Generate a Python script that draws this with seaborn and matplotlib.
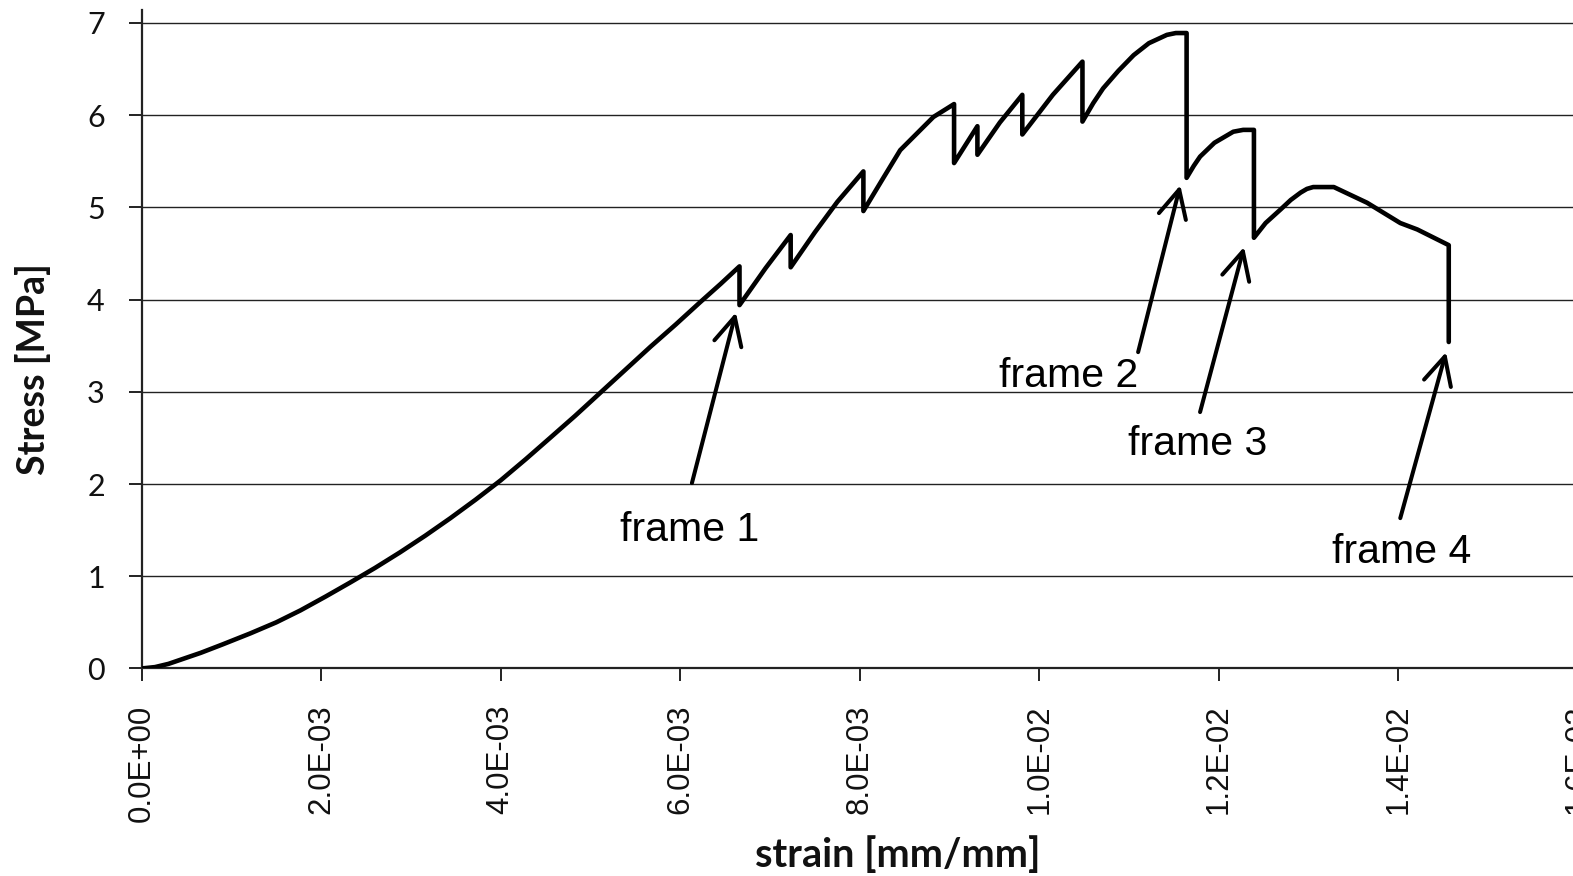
import matplotlib
matplotlib.use("Agg")
import matplotlib.pyplot as plt
import seaborn as sns
import pandas as pd

# Stress-strain record of the tensile test (strain in mm/mm, stress in MPa)
strain = [0.0, 0.15e-3, 0.30e-3, 0.45e-3, 0.66e-3, 0.90e-3, 1.21e-3, 1.50e-3,
          1.77e-3, 2.05e-3, 2.32e-3, 2.60e-3, 2.88e-3, 3.16e-3, 3.44e-3,
          3.72e-3, 4.00e-3, 4.28e-3, 4.55e-3, 4.83e-3, 5.11e-3, 5.39e-3,
          5.67e-3, 5.95e-3, 6.22e-3, 6.45e-3, 6.66e-3, 6.66e-3, 6.95e-3,
          7.23e-3, 7.23e-3, 7.50e-3, 7.75e-3, 8.04e-3, 8.04e-3, 8.25e-3,
          8.45e-3, 8.82e-3, 9.05e-3, 9.05e-3, 9.31e-3, 9.31e-3, 9.56e-3,
          9.81e-3, 9.81e-3, 10.15e-3, 10.48e-3, 10.48e-3, 10.60e-3, 10.71e-3,
          10.88e-3, 11.05e-3, 11.22e-3, 11.42e-3, 11.52e-3, 11.64e-3,
          11.64e-3, 11.72e-3, 11.79e-3, 11.95e-3, 12.16e-3, 12.27e-3,
          12.39e-3, 12.39e-3, 12.52e-3, 12.69e-3, 12.80e-3, 12.91e-3,
          12.98e-3, 13.05e-3, 13.28e-3, 13.65e-3, 14.02e-3, 14.21e-3,
          14.56e-3, 14.56e-3]
stress = [0.0, 0.015, 0.05, 0.10, 0.17, 0.26, 0.38, 0.50,
          0.63, 0.78, 0.93, 1.09, 1.26, 1.44, 1.63,
          1.83, 2.04, 2.27, 2.50, 2.74, 2.99, 3.24,
          3.49, 3.73, 3.97, 4.17, 4.36, 3.94, 4.34,
          4.70, 4.35, 4.73, 5.06, 5.39, 4.96, 5.30,
          5.62, 5.98, 6.12, 5.48, 5.88, 5.57, 5.92,
          6.22, 5.79, 6.22, 6.58, 5.93, 6.13, 6.29,
          6.48, 6.65, 6.78, 6.87, 6.89, 6.89,
          5.32, 5.45, 5.55, 5.70, 5.82, 5.84,
          5.84, 4.67, 4.83, 4.98, 5.08, 5.16,
          5.20, 5.22, 5.22, 5.05, 4.83, 4.76,
          4.59, 3.54]

# Frame markers: label, arrow tip (strain, stress), arrow tail, label anchor
frame_labels = ["frame 1", "frame 2", "frame 3", "frame 4"]
arrow_tips = [(6.62e-3, 3.86), (11.57e-3, 5.24), (12.28e-3, 4.57), (14.53e-3, 3.43)]
arrow_tails = [(6.13e-3, 2.01), (11.10e-3, 3.43), (11.79e-3, 2.78), (14.02e-3, 1.63)]
label_pos = [(6.10e-3, 1.38), (10.33e-3, 3.05), (11.76e-3, 2.31), (14.04e-3, 1.14)]

x_ticks = [0.0, 0.002, 0.004, 0.006, 0.008, 0.010, 0.012, 0.014, 0.016]
x_ticklabels = ["0.0E+00", "2.0E-03", "4.0E-03", "6.0E-03", "8.0E-03",
                "1.0E-02", "1.2E-02", "1.4E-02", "1.6E-02"]
y_ticks = [0, 1, 2, 3, 4, 5, 6, 7]

df = pd.DataFrame({"strain": strain, "stress": stress})

sns.set_theme(style="white")
plt.rcParams["font.family"] = ["Lato", "DejaVu Sans"]

fig = plt.figure(figsize=(15.73, 8.76), dpi=100)
ax = fig.add_axes([0.0900, 0.2369, 0.9132, 0.7517])

sns.lineplot(data=df, x="strain", y="stress", sort=False, estimator=None,
             color="black", linewidth=3.3, ax=ax, zorder=3)
ax.lines[0].set_solid_joinstyle("round")

ax.set_xlim(0, 0.016)
ax.set_ylim(0, 7.14)

# horizontal gridlines only
ax.set_yticks(y_ticks)
ax.yaxis.grid(True, color="#222222", linewidth=1.0)
ax.xaxis.grid(False)

ax.set_xticks(x_ticks)
ax.set_xticklabels(x_ticklabels, rotation=90, fontsize=22.5,
                   family=["Liberation Sans"], color="#111111")
ax.set_yticklabels([str(v) for v in y_ticks], fontsize=22, color="#111111")

ax.tick_params(axis="x", direction="out", length=9, width=1.4, color="#222222", pad=17)
ax.tick_params(axis="y", direction="out", length=9.5, width=1.4, color="#222222", pad=17)
ax.tick_params(bottom=True, left=True)

for side in ("top", "right"):
    ax.spines[side].set_visible(False)
for side in ("left", "bottom"):
    ax.spines[side].set_color("#222222")
    ax.spines[side].set_linewidth(1.6)

ax.set_xlabel("strain [mm/mm]", fontsize=28.5, fontweight="bold", color="#111111")
ax.set_ylabel("Stress [MPa]", fontsize=27, fontweight="bold", color="#111111")
ax.xaxis.set_label_coords(0.5263, -0.2832)
ax.xaxis.label.set_verticalalignment("center")
ax.yaxis.set_label_coords(-0.0759, 0.4548)
ax.yaxis.label.set_verticalalignment("center")

for lab, tip, tail, pos in zip(frame_labels, arrow_tips, arrow_tails, label_pos):
    ax.annotate("", xy=tip, xytext=tail,
                arrowprops=dict(arrowstyle="->,head_length=1.0,head_width=0.5",
                                color="black", lw=2.9, mutation_scale=20,
                                shrinkA=0, shrinkB=0),
                zorder=4)
    ax.text(pos[0], pos[1], lab, ha="center", va="baseline", fontsize=29.5,
            family=["Liberation Sans"], color="black", zorder=5)

fig.savefig("out.png", dpi=100, facecolor="white")
